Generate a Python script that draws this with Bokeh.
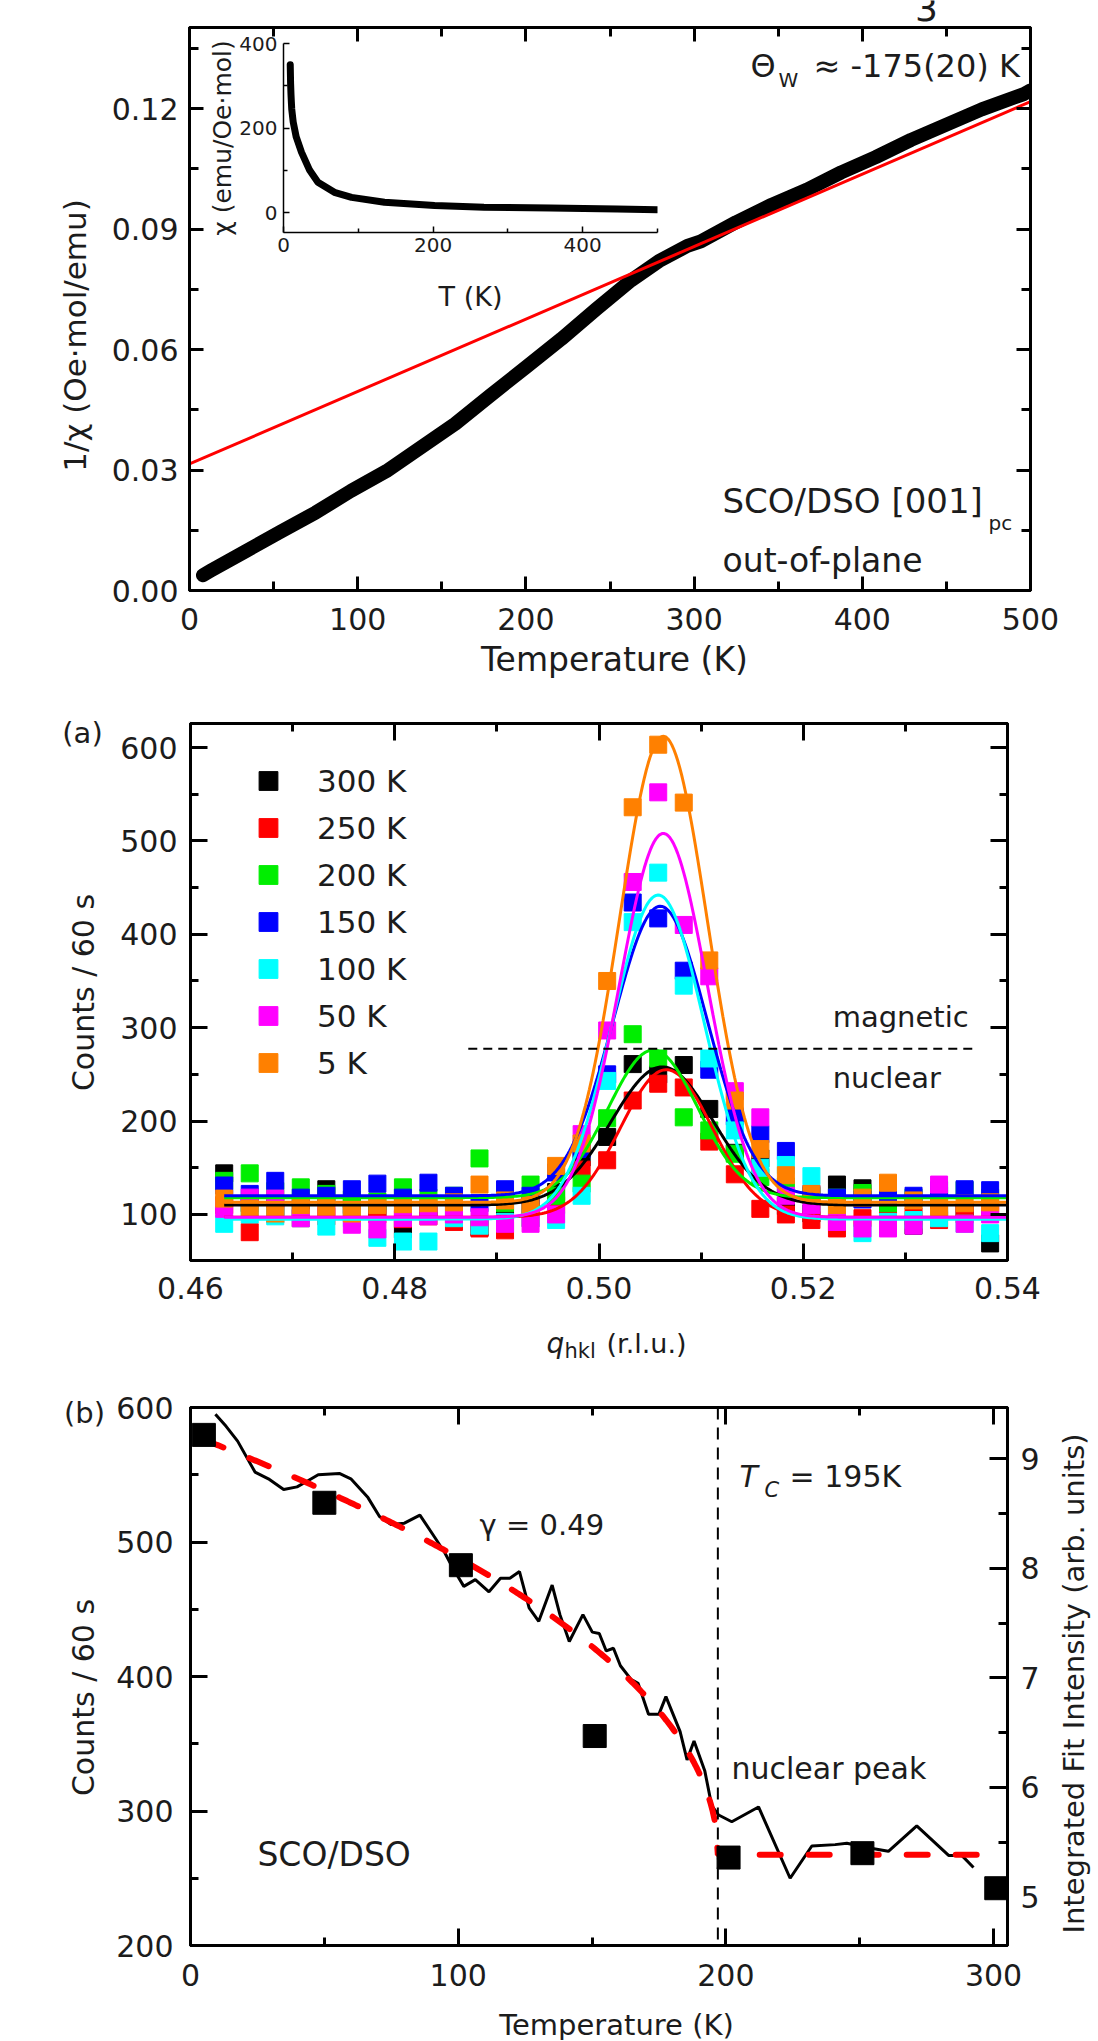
import numpy as np
from bokeh.plotting import figure
from bokeh.models import (LinearAxis, Range1d, FixedTicker, PrintfTickFormatter,
                          Label, Span, Legend, LegendItem)
from bokeh.embed import file_html
from bokeh.resources import INLINE

FONT = "DejaVu Sans"
TXT = "#1c1c1c"

# ---------------- Panel 1 : 1/chi vs T ----------------
mt_T = [8, 12.5, 33, 54, 75, 96, 117, 137.5, 158, 179, 200, 221, 242, 262.5, 279,
        296, 304, 325, 346, 367, 387.5, 408, 429, 450, 471, 496, 500]
mt_inv = [0.0038, 0.0049, 0.0097, 0.0146, 0.0194, 0.0248, 0.0297, 0.0356, 0.0415,
          0.0486, 0.0556, 0.0626, 0.0701, 0.0772, 0.0820, 0.0858, 0.0869, 0.0917,
          0.0960, 0.0998, 0.1041, 0.1079, 0.1122, 0.1160, 0.1198, 0.1236, 0.1245]
cw_T = [0, 500]
cw_inv = [0.0315, 0.1217]
p1_xticks = [0, 100, 200, 300, 400, 500]
p1_xminor = [50, 150, 250, 350, 450]
p1_yticks = [0.0, 0.03, 0.06, 0.09, 0.12]
p1_yminor = [0.015, 0.045, 0.075, 0.105, 0.135]

inset_T = [9, 9.5, 10, 10.5, 11, 13, 17, 24, 35, 46, 68, 91, 135, 202, 268, 357, 446, 500]
inset_chi = [350, 305, 280, 262, 245, 214, 179, 143, 100, 72, 48, 36, 24.5, 16.6,
             12.6, 11, 8.7, 7.1]
inset_xticks = [0, 200, 400]
inset_xminor = [100, 300, 500]
inset_yticks = [0, 200, 400]
inset_yminor = [100, 300]

# ---------------- Panel 2 : q scans ----------------
q = [0.4633, 0.4658, 0.4683, 0.4708, 0.4733, 0.4758, 0.4783, 0.4808, 0.4833, 0.4858,
     0.4883, 0.4908, 0.4933, 0.4958, 0.4983, 0.5008, 0.5033, 0.5058, 0.5083, 0.5108,
     0.5133, 0.5158, 0.5183, 0.5208, 0.5233, 0.5258, 0.5283, 0.5308, 0.5333, 0.5358,
     0.5383, 0.5408]
temps = ["300 K", "250 K", "200 K", "150 K", "100 K", "50 K", "5 K"]
colors = ["#000000", "#ff0000", "#00ee00", "#0000ff", "#00ffff", "#ff00ff", "#ff8000"]
c300 = [144, 112, 108, 106, 127, 110, 104, 84, 104, 100, 86, 106, 110, 124, 161, 183,
        261, 250, 260, 213, 166, 160, 109, 101, 132, 128, 110, 88, 102, 104, 69, 110]
c250 = [110, 81, 100, 96, 98, 102, 100, 95, 98, 92, 85, 83, 96, 110, 148, 158,
        222, 240, 236, 178, 143, 106, 100, 94, 85, 96, 100, 98, 94, 100, 102, 96]
c200 = [136, 144, 125, 129, 122, 116, 114, 129, 118, 120, 160, 112, 132, 120, 133, 203,
        293, 267, 204, 190, 165, 140, 130, 120, 118, 123, 112, 118, 120, 126, 118, 116]
c150 = [131, 122, 136, 118, 120, 127, 133, 118, 134, 120, 112, 127, 120, 145, 170, 250,
        434, 417, 361, 255, 205, 186, 168, 122, 118, 116, 120, 120, 126, 127, 126, 118]
c100 = [90, 100, 98, 96, 87, 96, 75, 71, 71, 96, 88, 92, 96, 94, 120, 243,
        413, 466, 345, 267, 190, 150, 153, 141, 100, 80, 92, 94, 96, 90, 80, 76]
c50 = [106, 118, 117, 96, 104, 89, 84, 96, 98, 100, 97, 90, 90, 100, 186, 297,
       456, 552, 410, 355, 232, 204, 120, 110, 92, 85, 85, 88, 132, 90, 100, 96]
c5 = [117, 106, 101, 110, 108, 101, 110, 111, 112, 113, 132, 115, 110, 152, 176, 350,
      536, 603, 541, 372, 222, 170, 142, 122, 110, 118, 134, 115, 108, 112, 113, 125]
series = [c300, c250, c200, c150, c100, c50, c5]
# Gaussian fit parameters (background, peak value, centre, sigma) per temperature
fit_bg = [110, 97, 118, 120, 95, 97, 113]
fit_peak = [258, 255, 276, 430, 442, 508, 612]
fit_center = [0.5062, 0.5066, 0.5053, 0.5060, 0.5058, 0.5063, 0.5063]
fit_sigma = [0.0050, 0.0045, 0.0044, 0.0046, 0.0045, 0.0043, 0.0043]
fit_q_span = [0.4633, 0.5400]
sep_q = [0.4872, 0.5371]
sep_counts = [277.5, 277.5]
p2_xticks = [0.46, 0.48, 0.50, 0.52, 0.54]
p2_xminor = [0.47, 0.49, 0.51, 0.53]
p2_yticks = [100, 200, 300, 400, 500, 600]
p2_yminor = [150, 250, 350, 450, 550]

# ---------------- Panel 3 : temperature dependence ----------------
sq_T = [5, 50, 101, 151, 201, 251, 301]
sq_int = [9.22, 8.60, 8.03, 6.47, 5.36, 5.40, 5.08]
cnt_T = [9.3, 13.3, 17.6, 24.1, 29.1, 34.8, 39.8, 43.4, 47.7, 55.6, 59.9, 66.3, 70.6,
         74.9, 79.9, 85.7, 91.4, 95, 97.9, 102.1, 106.4, 111.5, 115.8, 119.3, 122.9,
         126.5, 130.1, 135.1, 138, 141.5, 146.6, 150.1, 152.7, 155.3, 158, 160.6, 164.5,
         167.2, 171.1, 175, 177.6, 182.9, 185.5, 188.1, 192.1, 194.7, 197.3, 202.2,
         212.2, 224, 232.1, 240.8, 245.2, 252, 260.7, 271.3, 283.2, 288.1, 292.5]
cnt_val = [595, 586, 575, 552, 547, 539, 541, 545, 550, 551, 547, 533, 519, 513, 514,
           520, 503, 492, 481, 467, 472, 463, 473, 473, 478, 451, 441, 468, 446, 426,
           446, 433, 432, 419, 421, 408, 398, 395, 372, 372, 385, 359, 338, 352, 330,
           304, 297, 292, 303, 250, 274, 275, 276, 273, 270, 289, 267, 267, 258]
# order-parameter fit: bg + A (1 - T/Tc)^gamma
pw_bg, pw_A, pw_Tc, pw_gamma = 267.4, 312.6, 197.0, 0.49
pw_span = [5, 299]
tc_line = 197
p3_xticks = [0, 100, 200, 300]
p3_xminor = [50, 150, 250]
p3_yticks = [200, 300, 400, 500, 600]
p3_yminor = [250, 350, 450, 550]
p3_rticks = [5, 6, 7, 8, 9]
p3_rminor = [5.5, 6.5, 7.5, 8.5]


# ---------------- helpers ----------------
def make_fig(w, h, xr, yr, ml, mr, mt, mb, **kw):
    p = figure(width=w, height=h, x_range=xr, y_range=yr, output_backend="svg",
               toolbar_location=None, min_border_left=ml, min_border_right=mr,
               min_border_top=mt, min_border_bottom=mb, **kw)
    p.xgrid.visible = False
    p.ygrid.visible = False
    return p


def style_axis(ax, major, minor, tin, tmin, lw=3, size="30px", standoff=12,
               labels=True, fmt=None):
    ax.ticker = FixedTicker(ticks=major, minor_ticks=minor)
    ax.axis_line_width = lw
    ax.axis_line_color = "black"
    ax.major_tick_line_width = lw
    ax.minor_tick_line_width = lw
    ax.major_tick_line_color = "black"
    ax.minor_tick_line_color = "black"
    ax.major_tick_in = tin
    ax.major_tick_out = 0
    ax.minor_tick_in = tmin
    ax.minor_tick_out = 0
    ax.major_label_text_font = FONT
    if labels:
        ax.major_label_text_color = TXT
        ax.major_label_text_font_size = size
        ax.major_label_standoff = standoff
    else:
        ax.major_label_text_color = None
        ax.major_label_text_font_size = "10px"
        ax.major_label_standoff = 0
    if fmt:
        ax.formatter = PrintfTickFormatter(format=fmt)


def mirror(p, side, major, minor, tin, tmin, lw=3, **kw):
    ax = LinearAxis(**kw)
    style_axis(ax, major, minor, tin, tmin, lw=lw, labels=False)
    p.add_layout(ax, side)


def lab(p, x, y, text, size, align="left", baseline="middle", style="normal",
        angle=0.0, **kw):
    p.add_layout(Label(x=x, y=y, text=text, text_font=FONT, text_font_size=size,
                       text_align=align, text_baseline=baseline,
                       text_font_style=style, angle=angle, text_color=TXT, **kw))


W = 1096

# ================= Panel 1 =================
p1 = make_fig(W, 690, Range1d(0, 500), Range1d(0, 0.14017), 189, W - 1030, 27, 100)
p1.outline_line_color = "black"
p1.outline_line_width = 3
style_axis(p1.xaxis[0], p1_xticks, p1_xminor, 14, 9, standoff=17)
style_axis(p1.yaxis[0], p1_yticks, p1_yminor, 14, 9, standoff=11, fmt="%.2f")
mirror(p1, "above", p1_xticks, p1_xminor, 14, 9)
mirror(p1, "right", p1_yticks, p1_yminor, 14, 9)
p1.line(mt_T, mt_inv, line_color="black", line_width=14, line_cap="round",
        line_join="round")
p1.line(cw_T, cw_inv, line_color="#ff0000", line_width=3)
lab(p1, 333.5, 0.1307, "Θ", "32px")
lab(p1, 350.2, 0.1270, "W", "20px")
lab(p1, 371.0, 0.1307, "≈ -175(20) K", "32px")
lab(p1, 316.9, 0.0224, "SCO/DSO [001]", "34px")
lab(p1, 475.0, 0.0169, "pc", "20px")
lab(p1, 316.9, 0.00747, "out-of-plane", "33px")

# inset (transparent figure laid over panel 1)
inset = make_fig(W, 282, Range1d(0, 500), Range1d(-47, 400), 283, W - 657, 13, 80,
                 background_fill_color=None, border_fill_color=None)
inset.outline_line_color = None
style_axis(inset.xaxis[0], inset_xticks, inset_xminor, 6, 4, lw=1.5, size="20px",
           standoff=5)
style_axis(inset.yaxis[0], inset_yticks, inset_yminor, 6, 4, lw=1.5, size="20px",
           standoff=6)
inset.line(inset_T, inset_chi, line_color="black", line_width=7, line_join="round",
           line_cap="round")
inset.margin = (-660, 0, 378, 0)

# ================= Panel 2 =================
p2 = make_fig(W, 680, Range1d(0.46, 0.54), Range1d(50.7, 625.7), 190, W - 1007, 33, 110)
p2.outline_line_color = "black"
p2.outline_line_width = 3
style_axis(p2.xaxis[0], p2_xticks, p2_xminor, 17, 8, standoff=16, fmt="%.2f")
style_axis(p2.yaxis[0], p2_yticks, p2_yminor, 17, 8, standoff=13)
mirror(p2, "above", p2_xticks, p2_xminor, 17, 8)
mirror(p2, "right", p2_yticks, p2_yminor, 17, 8)

items = []
for name, col, ys in zip(temps, colors, series):
    r = p2.scatter(q, ys, marker="square", size=17, fill_color=col, line_color=col)
    items.append(LegendItem(label=name, renderers=[r]))
qq = np.linspace(fit_q_span[0], fit_q_span[1], 400)
for col, bg, pk, c0, sg in zip(colors, fit_bg, fit_peak, fit_center, fit_sigma):
    yy = bg + (pk - bg) * np.exp(-0.5 * ((qq - c0) / sg) ** 2)
    p2.line(qq, yy, line_color=col, line_width=3)
p2.line(sep_q, sep_counts, line_color="black", line_width=2, line_dash="9 6")

leg = Legend(items=items, location="top_left", margin=34, padding=0, spacing=0,
             glyph_width=88, glyph_height=47, label_height=47, label_standoff=5,
             label_text_font=FONT, label_text_font_size="31px",
             label_text_color=TXT, background_fill_alpha=0, border_line_color=None)
p2.add_layout(leg)
lab(p2, 0.52288, 310.9, "magnetic", "29px")
lab(p2, 0.52288, 245.6, "nuclear", "29px")

# ================= Panel 3 =================
p3 = make_fig(W, 670, Range1d(0, 305.2), Range1d(200, 600), 190, W - 1007, 37, 95)
p3.extra_y_ranges = {"int": Range1d(4.557, 9.47)}
p3.outline_line_color = "black"
p3.outline_line_width = 3
style_axis(p3.xaxis[0], p3_xticks, p3_xminor, 17, 8, standoff=18)
style_axis(p3.yaxis[0], p3_yticks, p3_yminor, 17, 8, standoff=17)
mirror(p3, "above", p3_xticks, p3_xminor, 17, 8)
rax = LinearAxis(y_range_name="int")
style_axis(rax, p3_rticks, p3_rminor, 18, 9, standoff=13)
p3.add_layout(rax, "right")

p3.line(cnt_T, cnt_val, line_color="black", line_width=3)
tt = np.concatenate([np.linspace(pw_span[0], pw_Tc, 300), [pw_Tc, pw_span[1]]])
pv = pw_bg + pw_A * np.clip(1 - tt / pw_Tc, 0, None) ** pw_gamma
p3.line(tt, pv, line_color="#ff0000", line_width=6, line_dash="21 28", line_cap="round")
p3.add_layout(Span(location=tc_line, dimension="height", line_color="black",
                   line_width=2, line_dash="12 8"))
p3.scatter(sq_T, sq_int, marker="square", size=23, fill_color="black",
           line_color="black", y_range_name="int")

lab(p3, 205.1, 548.7, "T", "30px", style="italic")
lab(p3, 214.4, 538.3, "C", "21px", style="italic")
lab(p3, 223.8, 548.7, "= 195K", "30px")
lab(p3, 108.0, 513.0, "γ = 0.49", "29px")
lab(p3, 202.1, 331.6, "nuclear peak", "30px")
lab(p3, 25.0, 267.7, "SCO/DSO", "33px")

# ================= transparent overlay for texts outside the frames =================
H = 2040
ov = figure(width=W, height=H, x_range=Range1d(0, W), y_range=Range1d(H, 0),
            x_axis_type=None, y_axis_type=None, toolbar_location=None,
            output_backend="svg", min_border_left=0, min_border_right=0,
            min_border_top=0, min_border_bottom=0, background_fill_color=None,
            border_fill_color=None, outline_line_color=None)
ov.margin = (-H, 0, 0, 0)
R = np.pi / 2
lab(ov, 926, 7, "3", "36px", align="center", baseline="alphabetic")
lab(ov, 614, 659, "Temperature (K)", "33px", align="center")
lab(ov, 74, 335, "1/χ (Oe·mol/emu)", "31px", align="center", angle=R)
lab(ov, 470, 296, "T (K)", "27px", align="center")
lab(ov, 222, 137.5, "χ (emu/Oe·mol)", "25px", align="center", angle=R)
lab(ov, 82, 732, "(a)", "29px", align="center")
lab(ov, 83, 992, "Counts / 60 s", "30px", align="center", angle=R)
lab(ov, 546, 1343, "q", "28px", style="italic")
lab(ov, 564, 1350, "hkl", "21px")
lab(ov, 606, 1343, "(r.l.u.)", "27px")
lab(ov, 84, 1412, "(b)", "29px", align="center")
lab(ov, 83, 1697, "Counts / 60 s", "30px", align="center", angle=R)
lab(ov, 1073, 1683, "Integrated Fit Intensity (arb. units)", "29px", align="center",
    angle=R)
lab(ov, 616, 2024, "Temperature (K)", "29px", align="center")

open("out.html", "w").write(file_html([p1, inset, p2, p3, ov], INLINE))
